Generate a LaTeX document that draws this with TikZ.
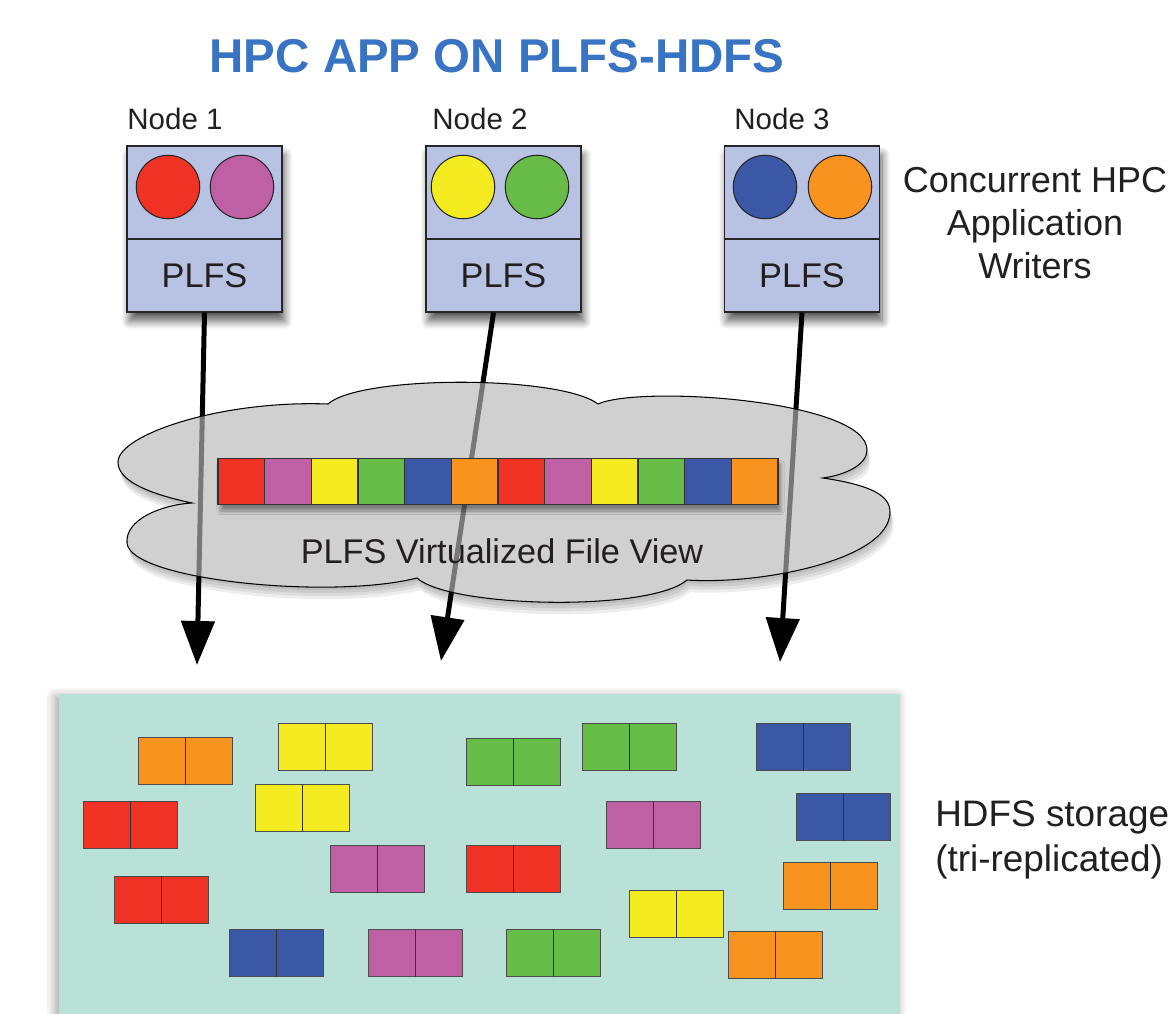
\documentclass[tikz,border=0pt]{standalone}
\usepackage{fontspec}
\setmainfont{Liberation Sans}
\usetikzlibrary{arrows.meta,positioning,shadows.blur}

\definecolor{ink}{RGB}{35,31,32}
\definecolor{ctitle}{RGB}{57,115,195}
\definecolor{cnode}{RGB}{184,195,227}
\definecolor{cstore}{RGB}{185,225,215}
\definecolor{ccloud}{RGB}{183,183,183}
\definecolor{cred}{RGB}{239,50,36}
\definecolor{cpurple}{RGB}{191,96,165}
\definecolor{cyellow}{RGB}{244,235,33}
\definecolor{cgreen}{RGB}{102,188,70}
\definecolor{cblue}{RGB}{59,88,166}
\definecolor{corange}{RGB}{247,147,30}

\newcommand{\cloudpath}{(192,503) .. controls (140,492) and (118,478) .. (118,462)
    .. controls (118,435) and (220,400) .. (328,404)
    .. controls (360,375) and (560,375) .. (598,404)
    .. controls (640,385) and (867,400) .. (867,450)
    .. controls (867,465) and (845,475) .. (823,478)
    .. controls (870,485) and (890,495) .. (890,512)
    .. controls (890,560) and (760,585) .. (687,580)
    .. controls (650,612) and (450,608) .. (417,578)
    .. controls (330,600) and (130,580) .. (127,543)
    .. controls (125,520) and (160,505) .. (192,503) -- cycle}

\begin{document}
\begin{tikzpicture}[x=0.02cm,y=-0.02cm,
  every node/.style={text=ink},
  lbl/.style={font=\fontsize{16.8}{20}\selectfont},
  note/.style={font=\fontsize{20.5}{24.5}\selectfont},
  writer/.style={draw=black!85,line width=0.8pt,fill=cnode,minimum width=3.1cm,minimum height=3.32cm,inner sep=0pt,
    blur shadow={shadow xshift=0.5mm,shadow yshift=-1.8mm,shadow opacity=65,shadow blur radius=1.6mm,shadow blur steps=8}},
  fsbox/.style={draw=black!85,line width=0.8pt,fill=cnode,minimum width=3.1cm,minimum height=1.46cm,inner sep=0pt,
    font=\fontsize{19.5}{22}\selectfont},
  proc/.style={circle,draw=black!85,line width=0.6pt,minimum size=1.27cm,inner sep=0pt},
  cell/.style={draw=black!80,line width=0.6pt,minimum size=0.933cm,inner sep=0pt},
  blk/.style={draw=black!70,line width=0.6pt,minimum width=1.88cm,minimum height=0.94cm,inner sep=0pt,anchor=north west},
  flow/.style={line width=0.1cm,-{Triangle[length=0.88cm,width=0.66cm]}},
]
\useasboundingbox (0,0) rectangle (1174,1014);

% hdfs storage
\node[draw=none,fill=cstore,minimum width=16.82cm,minimum height=8cm,inner sep=0pt,anchor=north west,
  blur shadow={shadow xshift=-0.7mm,shadow yshift=-0.6mm,shadow opacity=40,shadow blur radius=2mm,shadow blur steps=8}] (hdfs) at (59,694) {};
\foreach \x/\y/\c [count=\i] in {138/737/corange, 278/723/cyellow, 466/738/cgreen, 582/723/cgreen, 756/723/cblue,
    83/801/cred, 255/784/cyellow, 606/801/cpurple, 796/793/cblue, 330/845/cpurple, 466/845/cred, 783/862/corange,
    114/876/cred, 629/890/cyellow, 229/929/cblue, 368/929/cpurple, 506/929/cgreen, 728/931/corange} {
  \node[blk,fill=\c] (blk\i) at (\x,\y) {};
  \draw[black!80,line width=0.7pt] (blk\i.north) -- (blk\i.south);
}

\node[font=\fontsize{27}{32}\selectfont\bfseries,text=ctitle] (title) at (497,56) {HPC APP ON PLFS-HDFS};

% writers
\node[writer] (n1) at (204.5,229) {};
\node[writer] (n2) at (503.5,229) {};
\node[writer] (n3) at (802,229) {};
\node[fsbox,above=0pt of n1.south] (p1) {PLFS};
\node[fsbox,above=0pt of n2.south] (p2) {PLFS};
\node[fsbox,above=0pt of n3.south] (p3) {PLFS};
\node[lbl] (l1) at (175,119) {Node 1};
\node[lbl] (l2) at (480,119) {Node 2};
\node[lbl] (l3) at (782,119) {Node 3};
\node[proc,fill=cred] (w1a) at (168,187) {};
\node[proc,fill=cpurple] (w1b) at (242,187) {};
\node[proc,fill=cyellow] (w2a) at (463,187) {};
\node[proc,fill=cgreen] (w2b) at (537,187) {};
\node[proc,fill=cblue] (w3a) at (765,187) {};
\node[proc,fill=corange] (w3b) at (840,187) {};

% shadow of the cloud
\begin{scope}[even odd rule]
  \clip (0,0) rectangle (1174,1014) \cloudpath;
  \foreach \s in {3,6,9,12}
    \fill[black,opacity=0.07,shift={(0.3*\s,\s)}] \cloudpath;
\end{scope}

\coordinate (t1) at (197,665);
\coordinate (t2) at (441,661);
\coordinate (t3) at (780,662);
\draw[flow] (p1.south) -- (t1);
\draw[flow] ([xshift=-0.2cm]p2.south) -- (t2);
\draw[flow] (p3.south) -- (t3);

% virtualized view
\path[fill=ccloud,fill opacity=0.65,draw=black,line width=0.6pt] \cloudpath;
\path[blur shadow={shadow xshift=0.5mm,shadow yshift=-1.2mm,shadow opacity=40}] (218,458) rectangle (778,505);
\foreach \c [count=\i from 0] in {cred,cpurple,cyellow,cgreen,cblue,corange,cred,cpurple,cyellow,cgreen,cblue,corange}
  \node[cell,fill=\c] (b\i) at (241.3+46.67*\i,481.5) {};
\node[note,font=\fontsize{19.5}{23}\selectfont] (vfs) at (502,551) {PLFS Virtualized File View};

\node[note,align=center] (wr) at (1035,223) {Concurrent HPC\\Application\\Writers};
\node[note,align=left,anchor=west,inner sep=0pt,font=\fontsize{21}{25.5}\selectfont] (hs) at (935,840) {HDFS storage\\(tri-replicated)};
\end{tikzpicture}
\end{document}
